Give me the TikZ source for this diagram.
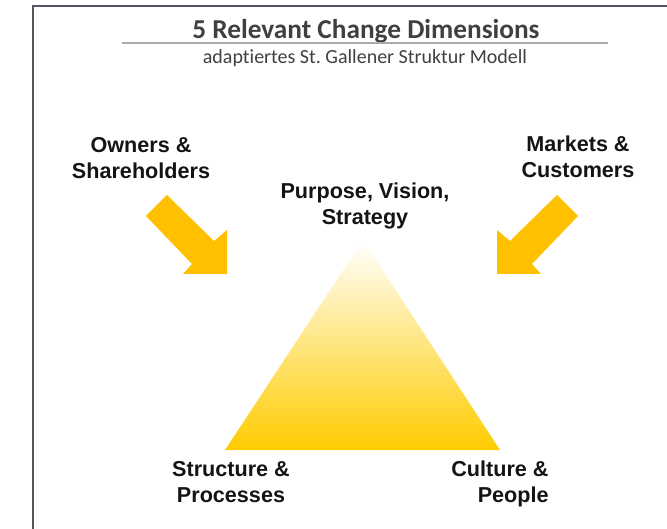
\documentclass[tikz,border=0pt]{standalone}
\usepackage{fontspec}
\setmainfont{Liberation Sans}
\newfontfamily\titlefont[Ligatures=NoCommon]{Carlito}
\usetikzlibrary{positioning,calc}
\definecolor{framegray}{RGB}{85,85,95}
\definecolor{rulegray}{RGB}{170,170,170}
\definecolor{titlegray}{RGB}{64,64,64}
\definecolor{arrowyellow}{RGB}{255,192,0}
\definecolor{pyramidyellow}{RGB}{255,204,0}
\definecolor{labelblack}{RGB}{20,20,20}

\begin{document}
\begin{tikzpicture}[
 x=1pt, y=-1pt,
 title/.style={font=\titlefont\bfseries\fontsize{27.3}{32}\selectfont, text=titlegray, inner sep=0pt, anchor=base},
 subtitle/.style={font=\titlefont\fontsize{20}{24}\selectfont, text=titlegray, inner sep=0pt, anchor=base},
 dimension/.style={font=\bfseries\fontsize{21.6}{26}\selectfont, text=labelblack, align=center, inner sep=0pt, anchor=base},
 blockarrow/.style={fill=arrowyellow, draw=none}
]

\useasboundingbox (0,0) rectangle (667,529);

% Frame
\draw[framegray, line width=2.5pt] (33,540) -- (33,6) -- (680,6);

% Title
\node[title] (title) at (366,39) {5 Relevant Change Dimensions};
\draw[rulegray, line width=1.5pt] (122,43) -- (608,43);
\node[subtitle] (subtitle) at (365,64) {adaptiertes St.\ Gallener Struktur Modell};

% Pyramid
\coordinate (apex) at (363,240);
\coordinate (baseL) at (225,450);
\coordinate (baseR) at (500,450);
\shade[top color=white, bottom color=pyramidyellow, draw=none]
 (apex) -- (baseR) -- (baseL) -- cycle;

% Influence arrows
\fill[blockarrow] (146,216) -- (167,195) -- (214,241) -- (227,230) -- (227,274)
 -- (183,274) -- (192,264) -- cycle;
\fill[blockarrow] (578,216) -- (557,195) -- (510,241) -- (497,230) -- (497,274)
 -- (541,274) -- (532,264) -- cycle;

% Dimensions (base = last line)
\node[dimension] (owners) at (141,179) {Owners \&\\Shareholders};
\node[dimension] (markets) at (578,178) {Markets \&\\Customers};
\node[dimension] (purpose) at (365,225) {Purpose, Vision,\\Strategy};
\node[dimension] (structure) at (231,502) {Structure \&\\Processes};
\node[dimension, align=right] (culture) at (500,502) {Culture \&\\People};

\end{tikzpicture}
\end{document}
